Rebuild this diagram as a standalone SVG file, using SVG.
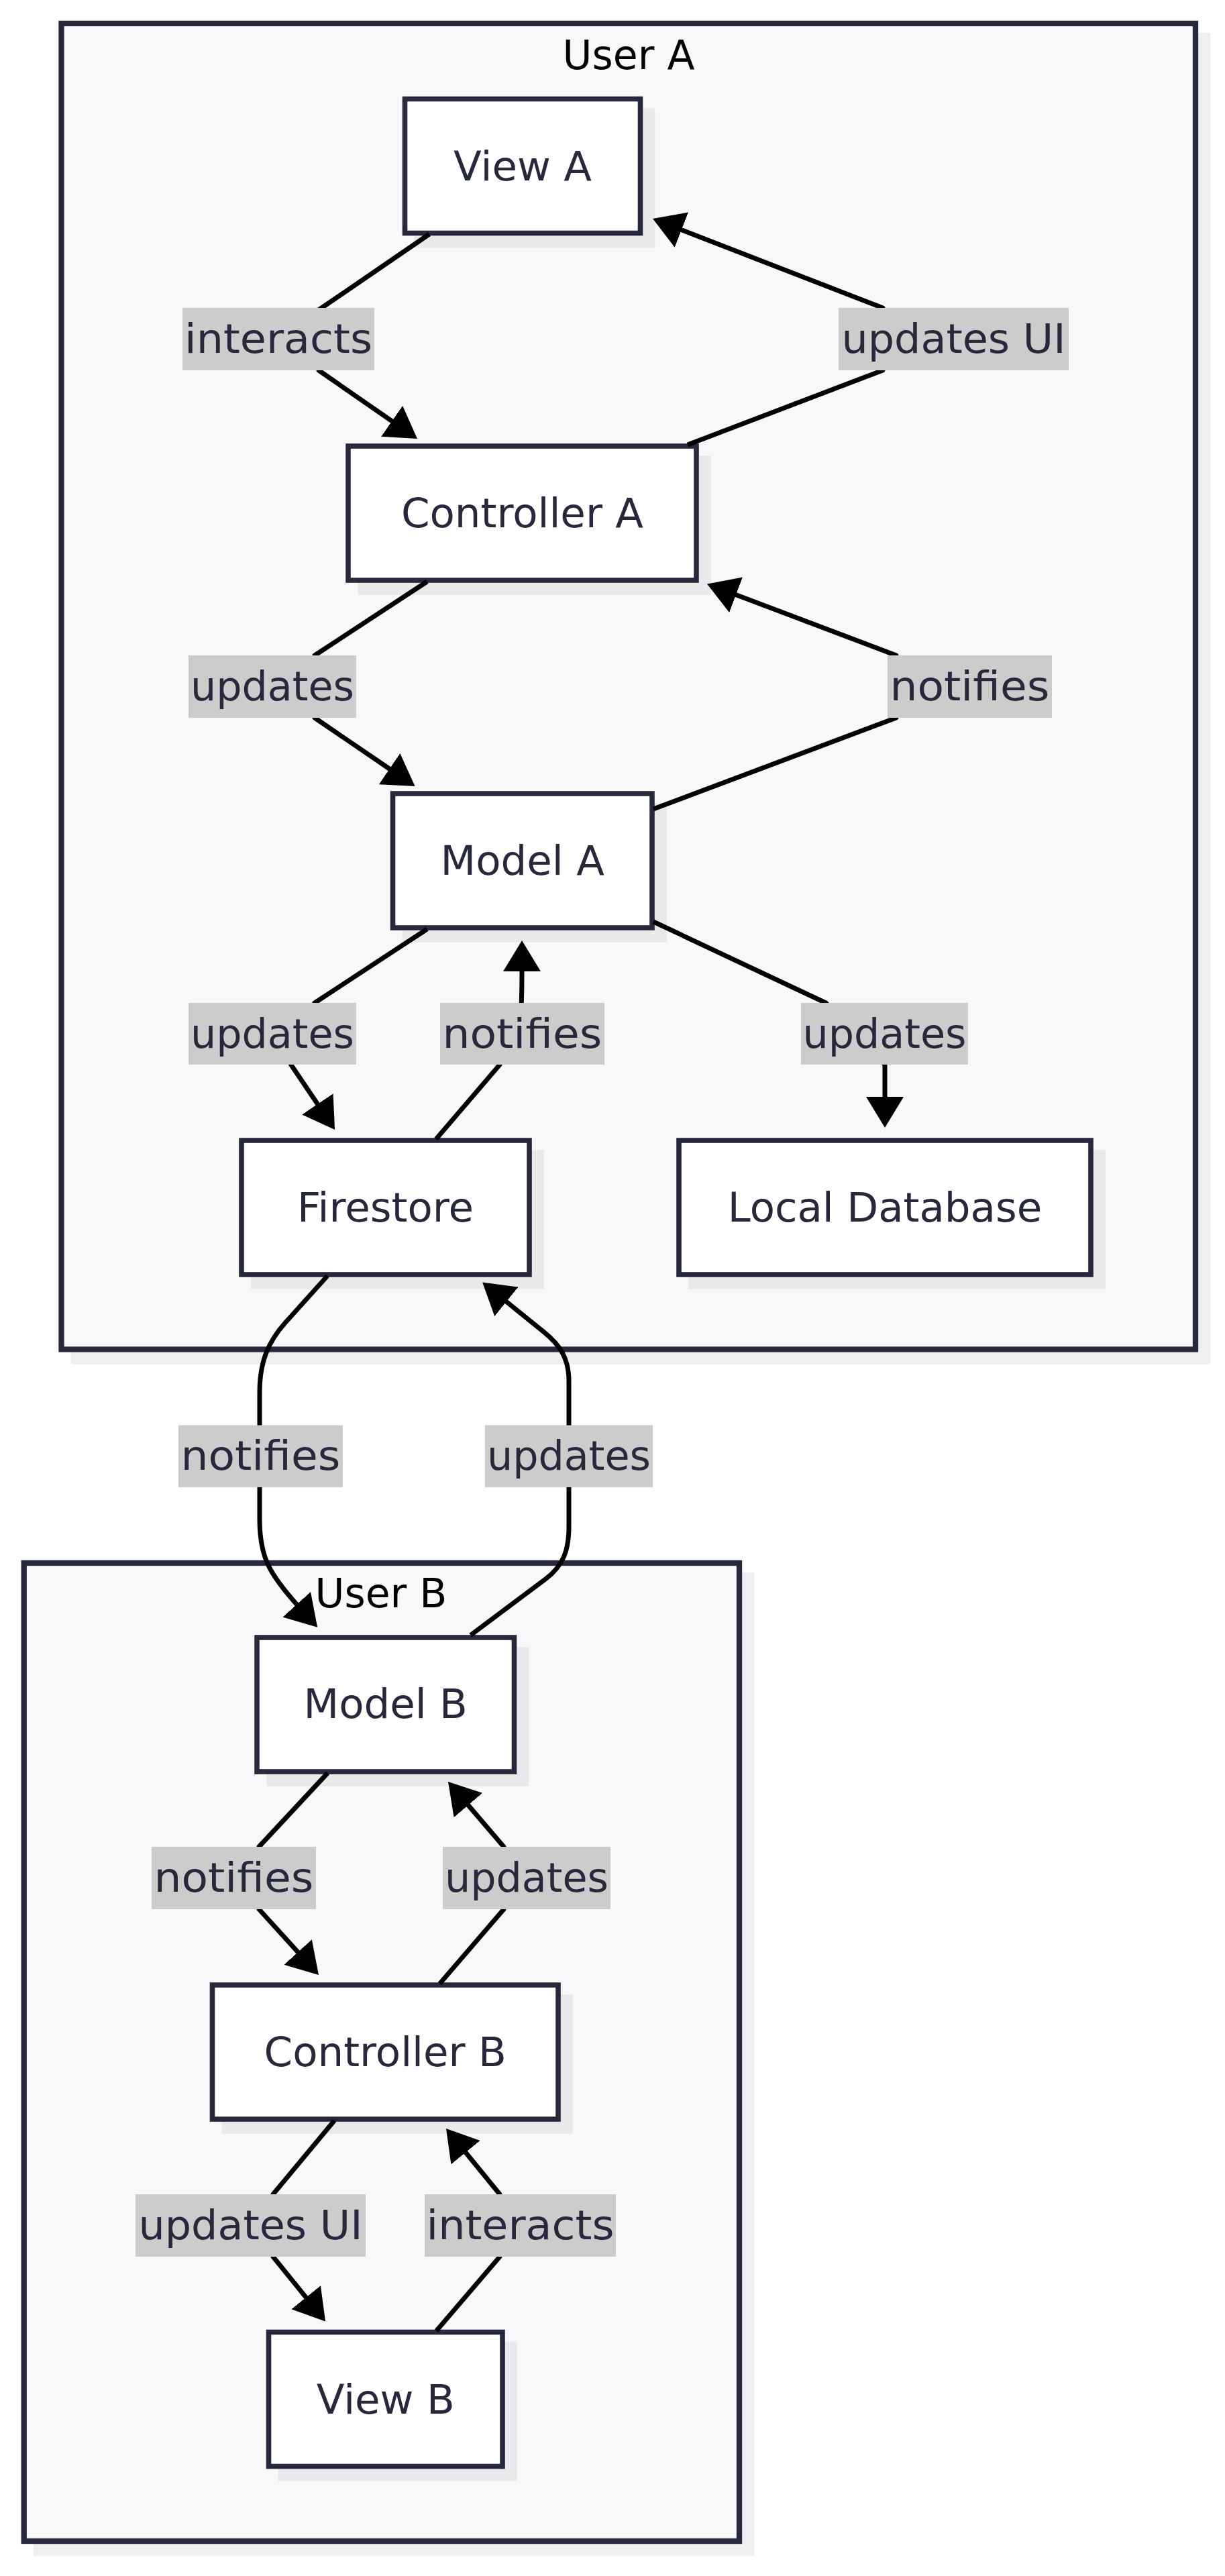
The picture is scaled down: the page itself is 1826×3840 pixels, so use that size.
<svg xmlns="http://www.w3.org/2000/svg" width="1826" height="3840" viewBox="0 0 1826 3840">
<style>
.cl{fill:#f8f8fa;stroke:#28283c;stroke-width:8.3}
.cls{fill:#efefef}
.clt{font-family:"DejaVu Sans",sans-serif;font-size:60px;fill:#000;text-anchor:middle}
.nd{fill:#ffffff;stroke:#28283c;stroke-width:7.6}
.sh{fill:#e9e9ec}
.nt{font-family:"DejaVu Sans",sans-serif;font-size:61px;fill:#28283c;text-anchor:middle}
.ed{fill:none;stroke:#000;stroke-width:7;stroke-linejoin:round}
.lb{fill:#cccccc}
.lt{font-family:"DejaVu Sans",sans-serif;font-size:61px;fill:#28283c;text-anchor:middle}
</style>
<defs>
<marker id="ah" viewBox="0 0 46 56" refX="6" refY="28" markerWidth="46" markerHeight="56" markerUnits="userSpaceOnUse" orient="auto">
<path d="M0,0 L46,28 L0,56 z" fill="#000"/>
</marker>
</defs>
<rect width="1826" height="3840" fill="#ffffff"/>

<g id="cluster-userA">
<rect class="cls" x="105.5" y="49" width="1698.8" height="1984.8"/>
<rect class="cl" x="91.5" y="35" width="1690.5" height="1976.5"/>
<text class="clt" x="937" y="103">User A</text>
</g>
<g id="cluster-userB">
<rect class="cls" x="49.7" y="2344" width="1074.6" height="1466.3"/>
<rect class="cl" x="35.7" y="2330" width="1066.3" height="1458"/>
<text class="clt" x="568" y="2396">User B</text>
</g>

<g id="node-viewA">
<rect class="sh" x="617.7" y="161.7" width="358.6" height="207.6"/>
<rect class="nd" x="603.5" y="147.5" width="351" height="200"/>
<text class="nt" x="779" y="268.5">View A</text>
</g>
<g id="node-controllerA">
<rect class="sh" x="533.2" y="679.2" width="526.6" height="207.6"/>
<rect class="nd" x="519" y="665" width="519" height="200"/>
<text class="nt" x="778.5" y="786">Controller A</text>
</g>
<g id="node-modelA">
<rect class="sh" x="599.7" y="1197.2" width="394.1" height="207.6"/>
<rect class="nd" x="585.5" y="1183" width="386.5" height="200"/>
<text class="nt" x="778.75" y="1304">Model A</text>
</g>
<g id="node-firestore">
<rect class="sh" x="374.2" y="1714.2" width="436.6" height="207.6"/>
<rect class="nd" x="360" y="1700" width="429" height="200"/>
<text class="nt" x="574.5" y="1821">Firestore</text>
</g>
<g id="node-localdb">
<rect class="sh" x="1026.2" y="1714.2" width="621.6" height="207.6"/>
<rect class="nd" x="1012" y="1700" width="614" height="200"/>
<text class="nt" x="1319" y="1821">Local Database</text>
</g>
<g id="node-modelB">
<rect class="sh" x="397.2" y="2455.2" width="391.1" height="207.6"/>
<rect class="nd" x="383" y="2441" width="383.5" height="200"/>
<text class="nt" x="574.75" y="2561">Model B</text>
</g>
<g id="node-controllerB">
<rect class="sh" x="330.7" y="2973.2" width="523.1" height="207.6"/>
<rect class="nd" x="316.5" y="2959" width="515.5" height="200"/>
<text class="nt" x="574.25" y="3080">Controller B</text>
</g>
<g id="node-viewB">
<rect class="sh" x="414.7" y="3490.7" width="356.1" height="207.6"/>
<rect class="nd" x="400.5" y="3476.5" width="348.5" height="200"/>
<text class="nt" x="574.75" y="3597.5">View B</text>
</g>

<g id="connectors">
<path class="ed" marker-end="url(#ah)" d="M640,349 L475,462 L475,552 L589.1,631.2"/>
<path class="ed" marker-end="url(#ah)" d="M1025,663 L1316,552 L1316,459 L1010.3,340.5"/>
<path class="ed" marker-end="url(#ah)" d="M636.6,867 L469,977 L469,1070 L585.5,1149.5"/>
<path class="ed" marker-end="url(#ah)" d="M974,1206 L1336,1070 L1336,977 L1091.4,884.6"/>
<path class="ed" marker-end="url(#ah)" d="M636.6,1385 L469,1495 L433.7,1587 L476.7,1650.8"/>
<path class="ed" marker-end="url(#ah)" d="M650,1698 L745,1587 L777,1500 Q778,1480 778,1442"/>
<path class="ed" marker-end="url(#ah)" d="M974,1374 L1231,1495 L1319,1587 L1319,1641"/>
<path class="ed" marker-end="url(#ah)" d="M488,1902 L425,1972 C400,2000 387,2030 387,2075 L387,2265 C387,2320 400,2345 446.3,2396.2"/>
<path class="ed" marker-end="url(#ah)" d="M701.5,2437.5 L813,2354 C840,2334 848,2310 848,2276 L848,2059 C848,2025 835,2005 810,1985 L750.2,1936.6"/>
<path class="ed" marker-end="url(#ah)" d="M488.4,2643 L386,2753 L386,2846 L448.1,2914.4"/>
<path class="ed" marker-end="url(#ah)" d="M655.5,2957 L751,2846 L751,2753 L694,2686.4"/>
<path class="ed" marker-end="url(#ah)" d="M498.5,3161 L407,3271 L407,3364 L459.9,3429.4"/>
<path class="ed" marker-end="url(#ah)" d="M650.5,3474.5 L745,3364 L745,3271 L690.3,3204"/>
</g>

<g id="edge-labels">
<g id="lbl-interacts-a"><rect class="lb" x="272" y="459" width="286" height="93"/><text class="lt" x="415" y="525.5" textLength="280" lengthAdjust="spacingAndGlyphs">interacts</text></g>
<g id="lbl-updatesui-a"><rect class="lb" x="1250" y="459" width="343" height="93"/><text class="lt" x="1421.5" y="525.5" textLength="334" lengthAdjust="spacingAndGlyphs">updates UI</text></g>
<g id="lbl-updates-cm-a"><rect class="lb" x="281" y="977" width="250" height="93"/><text class="lt" x="406" y="1043.5" textLength="244" lengthAdjust="spacingAndGlyphs">updates</text></g>
<g id="lbl-notifies-mc-a"><rect class="lb" x="1323" y="977" width="245" height="93"/><text class="lt" x="1445.5" y="1043.5" textLength="238" lengthAdjust="spacingAndGlyphs">notifies</text></g>
<g id="lbl-updates-mf"><rect class="lb" x="281" y="1495" width="250" height="92"/><text class="lt" x="406" y="1561.5" textLength="244" lengthAdjust="spacingAndGlyphs">updates</text></g>
<g id="lbl-notifies-fm"><rect class="lb" x="656" y="1495" width="245" height="92"/><text class="lt" x="778.5" y="1561.5" textLength="238" lengthAdjust="spacingAndGlyphs">notifies</text></g>
<g id="lbl-updates-ml"><rect class="lb" x="1194" y="1495" width="249" height="92"/><text class="lt" x="1318.5" y="1561.5" textLength="244" lengthAdjust="spacingAndGlyphs">updates</text></g>
<g id="lbl-notifies-fb"><rect class="lb" x="266" y="2124.5" width="245" height="92.5"/><text class="lt" x="388.5" y="2190.5" textLength="238" lengthAdjust="spacingAndGlyphs">notifies</text></g>
<g id="lbl-updates-bf"><rect class="lb" x="723" y="2124.5" width="250" height="92.5"/><text class="lt" x="848" y="2190.5" textLength="244" lengthAdjust="spacingAndGlyphs">updates</text></g>
<g id="lbl-notifies-mc-b"><rect class="lb" x="226" y="2753" width="245" height="93"/><text class="lt" x="348.5" y="2819.5" textLength="238" lengthAdjust="spacingAndGlyphs">notifies</text></g>
<g id="lbl-updates-cm-b"><rect class="lb" x="660" y="2753" width="250" height="93"/><text class="lt" x="785" y="2819.5" textLength="244" lengthAdjust="spacingAndGlyphs">updates</text></g>
<g id="lbl-updatesui-b"><rect class="lb" x="202" y="3271" width="343" height="93"/><text class="lt" x="373.5" y="3337.5" textLength="334" lengthAdjust="spacingAndGlyphs">updates UI</text></g>
<g id="lbl-interacts-b"><rect class="lb" x="633" y="3271" width="285" height="93"/><text class="lt" x="775.5" y="3337.5" textLength="280" lengthAdjust="spacingAndGlyphs">interacts</text></g>
</g>
</svg>
